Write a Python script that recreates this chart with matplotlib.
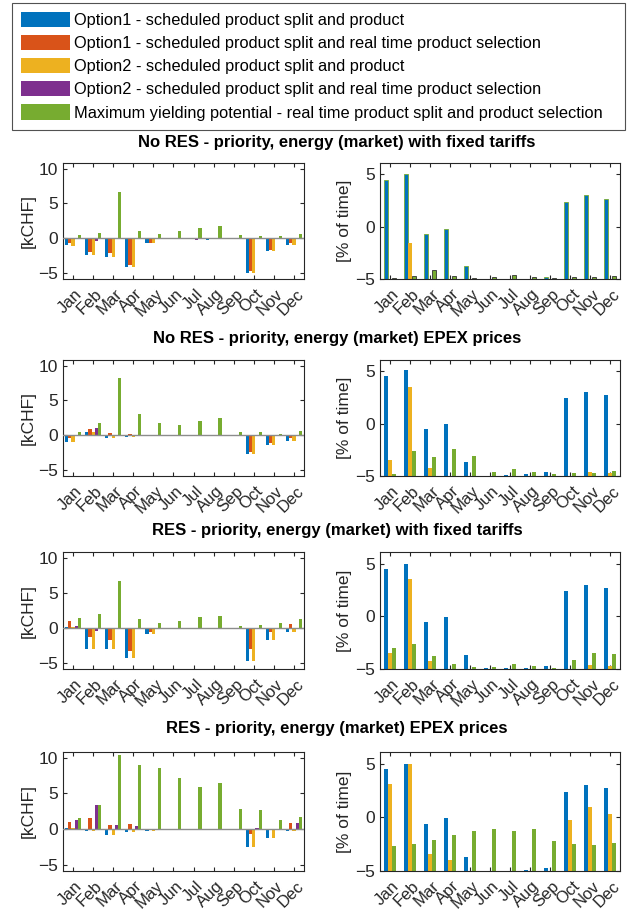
import numpy as np
import matplotlib.pyplot as plt
from matplotlib.patches import Patch
from matplotlib.transforms import ScaledTranslation

plt.rcParams['font.family'] = ['Liberation Sans', 'DejaVu Sans']

months = ['Jan', 'Feb', 'Mar', 'Apr', 'May', 'Jun', 'Jul', 'Aug', 'Sep', 'Oct', 'Nov', 'Dec']
titles = ['No RES - priority, energy (market) with fixed tariffs',
          'No RES - priority, energy (market) EPEX prices',
          'RES - priority, energy (market) with fixed tariffs',
          'RES - priority, energy (market) EPEX prices']
labels = ['Option1 - scheduled product split and product',
          'Option1 - scheduled product split and real time product selection',
          'Option2 - scheduled product split and product',
          'Option2 - scheduled product split and real time product selection',
          'Maximum yielding potential - real time product split and product selection']
colors = ['#0072BD', '#D95319', '#EDB120', '#7E2F8E', '#77AC30']

# left column: [kCHF], series order = labels
a_opt1 = [-1.0, -2.4, -2.8, -4.2, -0.7, -0.1, -0.2, -0.3, -0.1, -5.1, -1.8, -1.0]
a_opt1rt = [-0.7, -2.0, -2.1, -3.9, -0.7, -0.1, -0.2, -0.2, -0.1, -4.8, -1.7, -0.7]
a_opt2 = [-1.1, -2.5, -2.8, -4.2, -0.7, -0.1, -0.2, -0.2, -0.1, -5.1, -1.8, -1.0]
a_opt2rt = [0.0, -0.5, -0.1, -0.1, -0.05, -0.1, -0.3, -0.1, 0.0, 0.0, -0.1, -0.1]
a_max = [0.4, 0.7, 6.6, 1.0, 0.6, 1.0, 1.5, 1.7, 0.4, 0.3, 0.3, 0.6]

b_opt1 = [-1.0, 0.4, -0.4, -0.3, -0.1, -0.1, -0.1, -0.1, -0.1, -2.8, -1.4, -0.8]
b_opt1rt = [-0.5, 0.9, 0.3, 0.1, -0.1, -0.1, -0.1, -0.1, -0.1, -2.5, -1.2, -0.5]
b_opt2 = [-1.0, 0.4, -0.4, -0.3, -0.1, -0.1, -0.1, -0.1, -0.1, -2.8, -1.4, -0.8]
b_opt2rt = [0.0, 1.0, 0.0, 0.0, -0.1, -0.1, -0.1, -0.1, 0.0, 0.0, 0.0, 0.0]
b_max = [0.4, 1.7, 8.2, 3.0, 1.7, 1.4, 2.0, 2.4, 0.5, 0.5, 0.2, 0.6]

c_opt1 = [0.1, -3.1, -3.1, -4.3, -0.9, -0.1, -0.2, -0.2, -0.1, -4.8, -1.7, -0.6]
c_opt1rt = [1.0, -1.4, -1.8, -3.3, -0.6, -0.1, -0.2, -0.1, -0.1, -3.0, -0.6, 0.5]
c_opt2 = [0.1, -3.1, -3.1, -4.3, -0.9, -0.1, -0.2, -0.2, -0.1, -4.8, -1.7, -0.6]
c_opt2rt = [0.3, -0.5, -0.1, 0.0, 0.0, -0.1, -0.2, 0.0, 0.0, 0.0, 0.0, 0.0]
c_max = [1.4, 2.0, 6.7, 1.2, 0.6, 1.0, 1.5, 1.7, 0.3, 0.4, 0.6, 1.2]

d_opt1 = [0.2, -0.3, -0.8, -0.4, -0.3, -0.1, -0.1, -0.1, -0.1, -2.5, -1.3, -0.3]
d_opt1rt = [1.0, 1.5, 0.5, 0.7, 0.0, -0.1, -0.1, -0.1, -0.1, -0.7, -0.1, 0.8]
d_opt2 = [0.2, -0.3, -0.8, -0.4, -0.3, -0.1, -0.1, -0.1, -0.1, -2.5, -1.3, -0.3]
d_opt2rt = [1.3, 3.3, 0.5, 0.4, 0.0, -0.1, -0.1, -0.1, -0.1, 0.2, -0.1, 0.8]
d_max = [1.5, 3.3, 10.4, 9.0, 8.6, 7.2, 5.9, 6.5, 2.8, 2.6, 1.2, 1.7]

# right column: [% of time] (bar tops, bars start at -5)
e_opt1 = [4.5, 5.0, -0.7, -0.2, -3.8, -5.0, -5.0, -5.0, -4.8, 2.4, 3.0, 2.7]
e_opt2 = [-5.0, -1.6, -5.0, -5.0, -5.0, -5.0, -5.0, -5.0, -5.0, -5.0, -5.0, -5.0]
e_max = [-4.9, -4.75, -4.1, -4.75, -4.9, -4.85, -4.65, -4.8, -4.9, -4.8, -4.8, -4.7]

f_opt1 = [4.6, 5.1, -0.5, 0.0, -3.7, -5.0, -4.95, -4.85, -4.65, 2.45, 3.05, 2.75]
f_opt2 = [-3.5, 3.5, -4.2, -5.0, -5.0, -5.0, -5.0, -5.0, -5.0, -5.0, -4.65, -4.75]
f_max = [-4.85, -2.6, -3.2, -2.45, -3.05, -4.65, -4.3, -4.6, -4.85, -4.7, -4.75, -4.55]

g_opt1 = [4.5, 5.0, -0.55, -0.1, -3.7, -4.95, -4.95, -4.9, -4.7, 2.4, 3.0, 2.7]
g_opt2 = [-3.5, 3.5, -4.2, -5.0, -5.0, -5.0, -5.0, -5.0, -5.0, -5.0, -4.65, -4.75]
g_max = [-3.0, -2.65, -3.75, -4.55, -4.8, -4.8, -4.55, -4.7, -4.9, -4.15, -3.45, -3.6]

h_opt1 = [4.5, 5.0, -0.6, -0.1, -3.7, -5.0, -5.0, -4.9, -4.7, 2.4, 3.0, 2.7]
h_opt2 = [3.1, 5.0, -3.4, -4.0, -5.0, -5.0, -5.0, -5.0, -5.0, -0.25, 1.0, 0.3]
h_max = [-2.7, -2.5, -2.15, -1.65, -1.3, -1.1, -1.25, -1.05, -2.2, -2.5, -2.6, -2.35]

left_data = [[a_opt1, a_opt1rt, a_opt2, a_opt2rt, a_max],
             [b_opt1, b_opt1rt, b_opt2, b_opt2rt, b_max],
             [c_opt1, c_opt1rt, c_opt2, c_opt2rt, c_max],
             [d_opt1, d_opt1rt, d_opt2, d_opt2rt, d_max]]
right_data = [[e_opt1, e_opt2, e_max],
              [f_opt1, f_opt2, f_max],
              [g_opt1, g_opt2, g_max],
              [h_opt1, h_opt2, h_max]]
right_colors = [colors[0], colors[2], colors[4]]

fig = plt.figure(figsize=(6.3, 9.1), dpi=100)

# axes rows in pixels (top, bottom)
rows = [(163, 279), (360, 476), (552, 669), (752, 871)]
title_y = [142, 338, 530, 728]
x = np.arange(1, 13)
txt = '#262626'
shift = ScaledTranslation(0.07, 0, fig.dpi_scale_trans)

for i in range(4):
    top, bot = rows[i]
    b = 1 - bot / 910
    h = (bot - top) / 910
    axl = fig.add_axes([63 / 630, b, 241 / 630, h])
    axr = fig.add_axes([380 / 630, b, 240 / 630, h])

    # left: 5 grouped bars
    w = 0.16
    for k, ser in enumerate(left_data[i]):
        axl.bar(x + (k - 2) * w, ser, width=w, color=colors[k],
                edgecolor='none', zorder=2)
    axl.axhline(0, color='#8c8c8c', lw=1, zorder=3)
    axl.set_ylim(-5.9, 10.8)
    axl.set_yticks([-5, 0, 5, 10])
    axl.set_ylabel('[kCHF]', fontsize=12.5, color=txt, labelpad=2)

    # right: 3 grouped bars with base at -5
    w = 0.215
    for k, ser in enumerate(right_data[i]):
        vals = np.array(ser)
        ec = 'none'
        if i == 0 and k == 0:
            ec = colors[4]
        if i == 0 and k == 2:
            ec = '#333333'
        axr.bar(x + (k - 1) * w, vals + 5, bottom=-5, width=w * 0.95,
                color=right_colors[k], edgecolor=ec, linewidth=0.6, zorder=2)
    axr.set_ylim(-5, 6.1)
    axr.set_yticks([-5, 0, 5])
    axr.set_ylabel('[% of time]', fontsize=12.5, color=txt, labelpad=2)

    for ax in (axl, axr):
        ax.set_xlim(0.5, 12.5)
        ax.set_xticks(x)
        ax.set_xticklabels(months, rotation=45, ha='right', va='center',
                           rotation_mode='anchor', fontsize=12, color=txt)
        ax.tick_params(axis='both', direction='in', length=3, top=True, right=True,
                       colors=txt, labelsize=12.5)
        ax.tick_params(axis='x', labelsize=12, pad=9)
        for lab in ax.get_xticklabels():
            lab.set_transform(lab.get_transform() + shift)
        for s in ax.spines.values():
            s.set_color(txt)
            s.set_linewidth(0.8)

    fig.text(0.535, 1 - title_y[i] / 910, titles[i], ha='center', va='center',
             fontsize=12, fontweight='bold', color='black')

handles = [Patch(facecolor=c, edgecolor='none') for c in colors]
leg = fig.legend(handles, labels, loc='upper left',
                 bbox_to_anchor=(12 / 630, 1 - 128 / 910, 613 / 630, 125 / 910),
                 mode='expand', fontsize=11.8, frameon=True, fancybox=False,
                 edgecolor='#262626', handlelength=3.0, handleheight=1.05,
                 handletextpad=0.25, labelspacing=0.42, borderaxespad=0,
                 borderpad=0.55)
leg.get_frame().set_linewidth(0.8)

fig.savefig('out.png', dpi=100)
